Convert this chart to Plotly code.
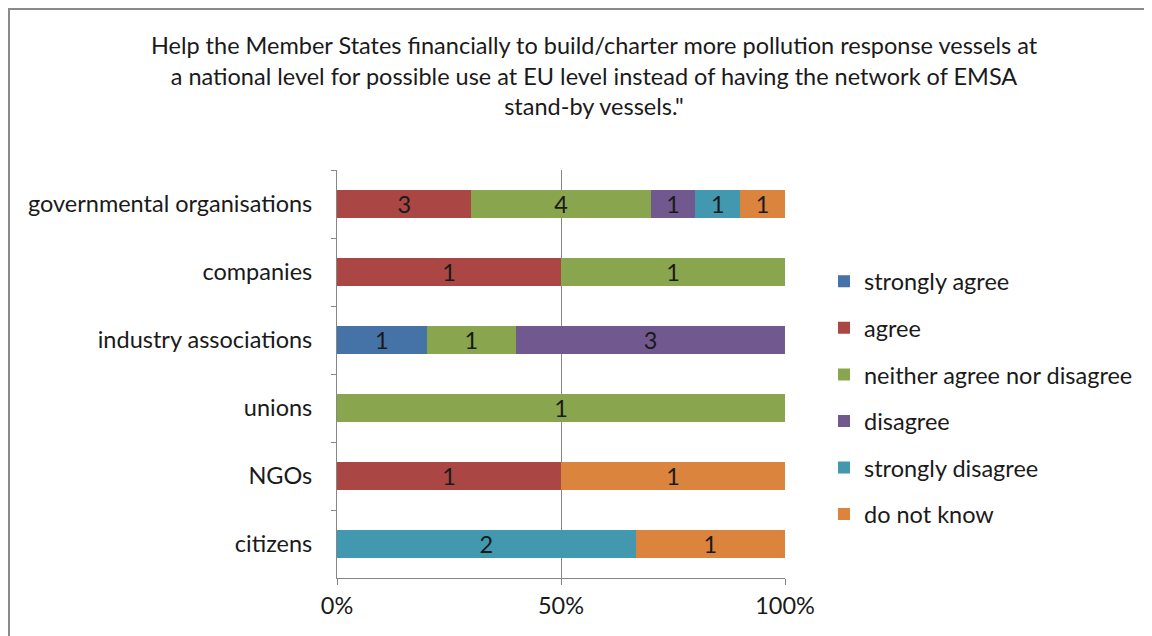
import plotly.graph_objects as go

# categories top to bottom
groups = ['governmental organisations', 'companies', 'industry associations',
          'unions', 'NGOs', 'citizens']

answers = ['strongly agree', 'agree', 'neither agree nor disagree',
           'disagree', 'strongly disagree', 'do not know']

# number of replies per answer, one list per answer, same order as groups
strongly_agree = [0, 0, 1, 0, 0, 0]
agree = [3, 1, 0, 0, 1, 0]
neither = [4, 1, 1, 1, 0, 0]
disagree = [1, 0, 3, 0, 0, 0]
strongly_disagree = [1, 0, 0, 0, 0, 2]
do_not_know = [1, 0, 0, 0, 1, 1]

counts = [strongly_agree, agree, neither, disagree, strongly_disagree, do_not_know]
colors = ['#4572A7', '#AA4643', '#89A54E', '#71588F', '#4198AF', '#DB843D']

title_text = ('Help the Member States financially to build/charter more pollution response vessels at<br>'
              'a national level for possible use at EU level instead of having the network of EMSA<br>'
              'stand-by vessels."')

FONT = 'Lato'
FS = 23.5
INK = '#1a1a1a'
GRID = '#868686'

fig = go.Figure()
for name, vals, col in zip(answers, counts, colors):
    fig.add_trace(go.Bar(
        y=groups, x=vals, name=name, orientation='h', legendgroup=name,
        marker=dict(color=col, line=dict(width=0)),
        text=[str(v) if v else '' for v in vals],
        texttemplate='%{text}', textposition='inside', textangle=0,
        insidetextanchor='middle', constraintext='none',
        textfont=dict(family=FONT, size=FS, color=INK),
        hoverinfo='skip',
    ))

# the page body has an 8px margin, so figure coords = screen coords - 8
OFF = 8
W, H = 1152 - OFF, 636 - OFF
L, R, T, B = 337 - OFF, 785 - OFF, 170 - OFF, 578 - OFF

fig.update_layout(
    width=W, height=H,
    barmode='stack', barnorm='percent', bargap=0.59,
    paper_bgcolor='white', plot_bgcolor='white',
    margin=dict(l=L, r=W - R, t=T, b=H - B, pad=0, autoexpand=False),
    font=dict(family=FONT, size=FS, color=INK),
    title=dict(text=title_text, x=586 / W, xanchor='center',
               y=1 - 46 / H, yanchor='top',
               font=dict(family=FONT, size=FS, color=INK)),
    legend=dict(xref='container', yref='container',
                x=(824 - OFF) / W, xanchor='left', y=1 - (398 - OFF) / H, yanchor='middle',
                traceorder='grouped', font=dict(family=FONT, size=FS, color=INK),
                itemwidth=30, tracegroupgap=13, bgcolor='rgba(0,0,0,0)'),
    xaxis=dict(range=[0, 100], tickvals=[0, 50, 100], ticktext=['0%', '50%', '100%'],
               showgrid=True, gridcolor=GRID, gridwidth=1, automargin=False,
               showline=True, linecolor=GRID, linewidth=1,
               ticks='outside', ticklen=6, tickcolor=GRID, zeroline=False,
               ticklabelstandoff=1,
               tickfont=dict(family=FONT, size=FS, color=INK)),
    yaxis=dict(autorange='reversed', type='category', tickson='boundaries',
               showgrid=False, showline=True, linecolor=GRID, linewidth=1,
               ticks='outside', ticklen=5, tickcolor=GRID, automargin=False,
               ticklabelstandoff=19,
               tickfont=dict(family=FONT, size=FS, color=INK)),
)

# outer chart frame, cut off at right and bottom
fig.add_shape(type='rect', xref='paper', yref='paper',
              x0=(1 - L) / (R - L), x1=(W + 20 - L) / (R - L),
              y0=(B - (H + 20)) / (B - T), y1=(B - 1) / (B - T),
              line=dict(color='#8a8a8a', width=2), fillcolor='rgba(0,0,0,0)', layer='below')

fig.write_html('out.html')
